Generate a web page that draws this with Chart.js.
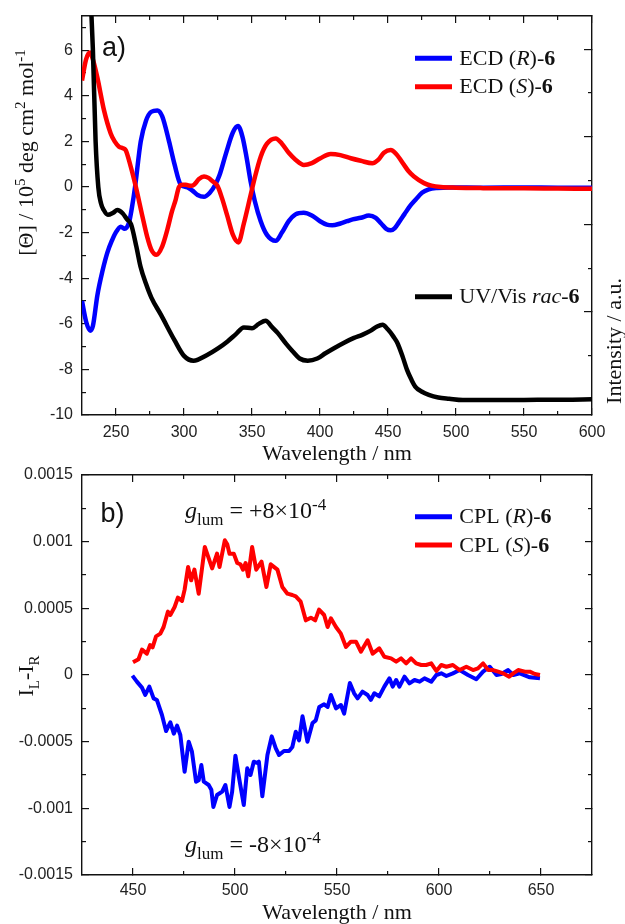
<!DOCTYPE html>
<html>
<head>
<meta charset="utf-8">
<script src="https://cdn.jsdelivr.net/npm/chart.js@4.4.1/dist/chart.umd.min.js"></script>
<style>
  html, body { margin: 0; padding: 0; background: #fff; }
  #wrap { position: relative; width: 625px; height: 924px; overflow: hidden; }
  #topChart { position: absolute; left: 0; top: 0; width: 625px; height: 470px; }
  #botChart { position: absolute; left: 0; top: 462px; width: 625px; height: 462px; }
</style>
</head>
<body>
<div id="wrap">
  <canvas id="topChart" width="625" height="470"></canvas>
  <canvas id="botChart" width="625" height="462"></canvas>
</div>
<script>
// ---- panel a) : ECD of both enantiomers + UV/Vis ----
const ecdRWl = [225, 228, 231, 233, 236.3, 240, 243.7, 247, 249.8, 253.5, 256.4, 259.6, 262, 264, 268.2, 272, 276, 280.4, 284, 289, 293, 297.6, 302, 306, 310, 314.7, 319, 323, 326, 331, 336, 339.7, 343, 346, 349, 352, 356.4, 361, 367.4, 372, 377, 382, 388, 394, 400, 405, 409, 415, 420, 424, 430, 436, 441, 445, 449, 452, 455, 458, 462, 466, 470.4, 475, 480, 486, 495, 520, 550, 575, 600];
const ecdRVal = [-5.0, -5.9, -6.3, -6.1, -4.75, -3.7, -2.87, -2.35, -2.0, -1.74, -1.83, -1.55, -0.8, 0.0, 2.0, 2.9, 3.3, 3.36, 3.1, 2.0, 1.0, 0.1, 0.0, -0.15, -0.35, -0.43, -0.25, 0.1, 0.5, 1.5, 2.4, 2.67, 2.2, 1.3, 0.24, -0.6, -1.5, -2.1, -2.36, -2.0, -1.5, -1.2, -1.13, -1.25, -1.5, -1.65, -1.68, -1.6, -1.5, -1.42, -1.35, -1.25, -1.35, -1.6, -1.85, -1.9, -1.8, -1.55, -1.2, -0.85, -0.55, -0.25, -0.1, -0.04, -0.02, -0.03, -0.02, -0.03, -0.03];

const ecdSWl = [225, 228, 230.9, 233, 236.3, 241.2, 246.1, 249, 252.2, 255, 257.1, 260.8, 264.5, 269.4, 273, 276, 279.7, 284, 287.8, 291, 293.9, 296.3, 299, 301.3, 305, 307.4, 311, 314.7, 318, 321, 324.6, 328, 331.9, 336, 340, 344, 349, 352, 356.4, 361, 367.4, 372, 377, 382, 388.2, 394, 400, 407.9, 415, 422.6, 430, 438.5, 443, 447, 452, 456, 461.8, 465, 469.1, 476.5, 482, 488.8, 500, 520, 550, 575, 600];
const ecdSVal = [4.67, 5.6, 5.9, 5.6, 4.8, 3.36, 2.35, 2.0, 1.77, 1.7, 1.62, 0.9, 0.03, -1.28, -2.2, -2.75, -2.97, -2.6, -1.86, -1.1, -0.55, 0.0, 0.1, 0.1, 0.05, 0.1, 0.35, 0.46, 0.4, 0.25, 0.05, -0.5, -1.28, -2.1, -2.43, -1.6, -0.35, 0.4, 1.33, 1.9, 2.13, 1.9, 1.5, 1.2, 0.97, 1.05, 1.25, 1.45, 1.4, 1.26, 1.15, 1.04, 1.2, 1.5, 1.62, 1.45, 0.97, 0.7, 0.46, 0.17, 0.06, 0.0, -0.03, -0.05, -0.06, -0.07, -0.08];

// UV/Vis intensity (a.u., right axis)
const uvWl = [230, 231, 232, 233, 235, 237, 239, 241, 244, 248, 251, 255, 258, 261, 265, 268, 272, 276, 283, 293, 300, 307, 317, 325, 332, 338, 344, 350, 355, 360, 365, 369, 375, 380, 385, 391, 398, 404, 410, 417, 425, 431, 437, 442, 446, 450, 454, 457, 461, 464, 467, 470, 475, 480, 487, 495, 505, 520, 540, 560, 580, 600];
const uvVal = [9.6, 9.16, 8.74, 8.0, 5.9, 4.85, 4.48, 4.33, 4.22, 4.27, 4.33, 4.25, 4.12, 4.01, 3.49, 3.04, 2.65, 2.33, 1.94, 1.36, 1.0, 0.89, 1.02, 1.17, 1.33, 1.49, 1.65, 1.63, 1.73, 1.8, 1.65, 1.52, 1.28, 1.1, 0.94, 0.89, 0.94, 1.06, 1.17, 1.29, 1.41, 1.48, 1.57, 1.67, 1.71, 1.6, 1.44, 1.29, 0.96, 0.68, 0.47, 0.3, 0.18, 0.11, 0.05, 0.02, -0.01, -0.01, -0.01, 0.0, 0.0, 0.01];

const ecdXMajor = [250, 300, 350, 400, 450, 500, 550, 600];
const ecdXMinor = [275, 325, 375, 425, 475, 525, 575];
const ecdYMajor = [-10, -8, -6, -4, -2, 0, 2, 4, 6];
const ecdYMinor = [-9, -7, -5, -3, -1, 1, 3, 5, 7];
const uvYMajor = [2, 4, 6, 8];
const uvYMinor = [1, 3, 5, 7];

const ecdLabels = ['ECD (<i>R</i>)-<b>6</b>', 'ECD (<i>S</i>)-<b>6</b>'];
const uvLabel = 'UV/Vis <i>rac</i>-<b>6</b>';

// ---- panel b) : CPL ----
const cplRWl = [449.7, 451.9, 454.4, 456, 458, 460.1, 461.7, 464.2, 466.2, 468.3, 470, 471.6, 473.2, 475.3, 477.3, 478.9, 480.9, 482.2, 483.5, 484.7, 487.1, 488.4, 489.4, 491.2, 493.7, 495.3, 497.3, 498.6, 500.2, 502.2, 504.3, 506, 507.6, 509.2, 510.9, 511.7, 513.4, 515.9, 518, 520, 521.6, 524, 526.5, 528.1, 529.8, 531.4, 533.1, 535.5, 538, 539.6, 541.3, 543.7, 545.4, 547, 549.5, 551.9, 553.5, 556.3, 558.4, 560.1, 562.5, 565, 566.6, 568.3, 570.7, 573.2, 575.7, 577.3, 579, 580.6, 583.1, 585.5, 588, 590.5, 592.9, 596.2, 598.7, 601.1, 603.6, 606.8, 610.1, 614.2, 618.3, 621.6, 624.9, 628.2, 630.6, 633.9, 636.4, 639.6, 644.5, 649.5];
const cplRVal = [-0.000005, -0.00005, -0.000095, -0.00015, -0.000087, -0.000175, -0.000187, -0.0003, -0.00042, -0.000355, -0.00044, -0.00038, -0.00045, -0.000725, -0.0005, -0.000575, -0.0008, -0.00079, -0.000675, -0.0008, -0.000825, -0.00086, -0.00099, -0.0009, -0.000875, -0.000825, -0.00099, -0.000875, -0.000605, -0.00079, -0.000975, -0.0007, -0.00075, -0.00065, -0.00066, -0.00065, -0.00091, -0.0006, -0.00046, -0.00055, -0.0006, -0.00057, -0.00057, -0.00054, -0.000425, -0.00049, -0.00031, -0.0005, -0.00036, -0.00034, -0.00024, -0.00022, -0.00024, -0.00015, -0.00025, -0.000225, -0.00029, -0.00006, -0.000137, -0.000175, -0.000125, -0.00015, -0.000187, -0.000137, -0.00016, -0.000087, -0.000025, -0.000087, -0.0000375, -0.000087, -0.0000125, -0.0000625, -0.0000375, -0.00005, -0.000025, -0.00005, 0, 0.0000125, -0.0000075, 0.0000125, 0.000037, 0, -0.000032, 0.000025, 0.000062, 0, 0.0000075, 0.000037, 0, 0.0000125, -0.000017, -0.000025];

const cplSWl = [450, 452.7, 454.4, 456.8, 458.4, 459.6, 461.3, 463.4, 465, 467.1, 468.3, 470.4, 472, 474, 475.3, 477, 478.5, 480.1, 482.2, 485.2, 486.8, 488.8, 491.2, 492.4, 495, 496.2, 497.3, 499.4, 501.1, 502.7, 503.9, 505.2, 506.5, 508.4, 510.4, 513, 515.4, 517.5, 520.8, 523.2, 525.7, 528.1, 529.8, 532.2, 534.7, 537.2, 539.3, 541.2, 543.7, 545.4, 547, 549.5, 551.9, 554.4, 556.8, 559.3, 561.7, 565, 567.5, 570.7, 573.2, 576.5, 579, 581.4, 583.9, 586.3, 588.8, 591.3, 593.7, 596.2, 598.7, 601.1, 603.6, 606.8, 610.1, 613.4, 616.7, 619.1, 621.6, 624.1, 626.5, 629, 631.4, 634.4, 636.4, 638.8, 642.1, 644.5, 647, 649.5];
const cplSVal = [0.000095, 0.000118, 0.00019, 0.00016, 0.000225, 0.000207, 0.00029, 0.00031, 0.00036, 0.000475, 0.00045, 0.00051, 0.00058, 0.000555, 0.00064, 0.00081, 0.00071, 0.00079, 0.00061, 0.00096, 0.00089, 0.0008, 0.00091, 0.00081, 0.00101, 0.00098, 0.00091, 0.00091, 0.00084, 0.00083, 0.00079, 0.00084, 0.00074, 0.00096, 0.00079, 0.00085, 0.00066, 0.00083, 0.00079, 0.00066, 0.00061, 0.0006, 0.00059, 0.00055, 0.00041, 0.00043, 0.00041, 0.00049, 0.00045, 0.00036, 0.000425, 0.00036, 0.00031, 0.00021, 0.00025, 0.00025, 0.000175, 0.00026, 0.00016, 0.0002, 0.000137, 0.000125, 0.0001, 0.000125, 0.000087, 0.000125, 0.000087, 0.000075, 0.000075, 0.000087, 0.00003, 0.000075, 0.000062, 0.000075, 0.000037, 0.000062, 0.000037, 0.00005, 0.000087, 0.000037, 0.000037, 0.000025, 0.0000125, -0.0000125, 0.0000125, 0.000037, 0.000025, 0.000025, 0.0000075, 0];

const cplXMajor = [450, 500, 550, 600, 650];
const cplXMinor = [475, 525, 575, 625];
const cplYMajor = [-0.0015, -0.001, -0.0005, 0, 0.0005, 0.001, 0.0015];
const cplYMinor = [-0.00125, -0.00075, -0.00025, 0.00025, 0.00075, 0.00125];

const cplLabels = ['CPL (<i>R</i>)-<b>6</b>', 'CPL (<i>S</i>)-<b>6</b>'];

// ---- styling ----
const SANS = '"Liberation Sans", Arial, sans-serif';
const SERIF = '"Liberation Serif", "Times New Roman", serif';
const INK = '#111';
const BLUE = '#0000ff';
const RED = '#ff0000';
const BLACK = '#000000';

const pts = (xs, ys) => xs.map((x, i) => ({ x, y: ys[i] }));
const plain = s => s.replace(/<[^>]+>/g, '');

// tiny markup: <i>, <b>, <sub>, <sup>
function parseRich(str, size, family) {
  const parts = [];
  const re = /<(i|b|sub|sup)>(.*?)<\/\1>|([^<]+)/g;
  const small = Math.round(size * 0.7);
  let m;
  while ((m = re.exec(str))) {
    if (m[3]) parts.push({ t: m[3], font: `${size}px ${family}`, dy: 0 });
    else if (m[1] === 'i') parts.push({ t: m[2], font: `italic ${size}px ${family}`, dy: 0 });
    else if (m[1] === 'b') parts.push({ t: m[2], font: `bold ${size}px ${family}`, dy: 0 });
    else if (m[1] === 'sub') parts.push({ t: m[2], font: `${small}px ${family}`, dy: size * 0.28 });
    else parts.push({ t: m[2], font: `${small}px ${family}`, dy: -size * 0.36 });
  }
  return parts;
}

function drawRich(ctx, it) {
  const parts = parseRich(it.text, it.size, it.family || SERIF);
  ctx.save();
  ctx.translate(it.x, it.y);
  if (it.rotate) ctx.rotate(it.rotate);
  ctx.textAlign = 'left';
  ctx.textBaseline = 'alphabetic';
  ctx.fillStyle = it.color || INK;
  let w = 0;
  parts.forEach(p => { ctx.font = p.font; p.w = ctx.measureText(p.t).width; w += p.w; });
  let x = it.align === 'center' ? -w / 2 : 0;
  parts.forEach(p => { ctx.font = p.font; ctx.fillText(p.t, x, p.dy); x += p.w; });
  ctx.restore();
}

const richText = {
  id: 'richText',
  afterDraw(chart, args, opts) {
    const ctx = chart.ctx;
    (opts.keys || []).forEach(k => {
      ctx.save();
      ctx.strokeStyle = k.color;
      ctx.lineWidth = 5;
      ctx.beginPath();
      ctx.moveTo(415, k.y);
      ctx.lineTo(452, k.y);
      ctx.stroke();
      ctx.restore();
      drawRich(ctx, { text: k.text, x: 459.3, y: k.y + 6.6, size: 22 });
    });
    (opts.items || []).forEach(it => drawRich(ctx, it));
  }
};

// axis with inward ticks; labels/border/title optional
function axis(o) {
  const horiz = o.position === 'top' || o.position === 'bottom';
  return {
    type: 'linear',
    axis: horiz ? 'x' : 'y',
    position: o.position,
    min: o.min,
    max: o.max,
    weight: o.weight || 0,
    afterBuildTicks: s => { s.ticks = o.ticks.map(v => ({ value: v })); },
    afterFit: s => {
      if (horiz) s.height = o.size; else s.width = o.size;
      // no extra inset of the plot area for overhanging labels
      s.paddingTop = 0; s.paddingBottom = 0; s.paddingLeft = 0; s.paddingRight = 0;
    },
    grid: { display: true, drawOnChartArea: false, drawTicks: true, tickLength: -o.len, color: INK, lineWidth: 1.2 },
    border: { display: !!o.border, color: INK, width: 1.4 },
    ticks: {
      display: !!o.labels, autoSkip: false, maxRotation: 0, padding: o.pad || 0,
      color: '#222', font: { family: SANS, size: 16, lineHeight: 1.2 },
      callback: v => String(v)
    },
    title: o.title
      ? { display: true, text: o.title, color: INK, font: { family: SERIF, size: 22, lineHeight: 1 }, padding: { top: 0, bottom: o.titlePad } }
      : { display: false }
  };
}

const lineDefaults = { pointRadius: 0, clip: 0, fill: false };

new Chart(document.getElementById('topChart'), {
  type: 'line',
  data: {
    datasets: [
      { ...lineDefaults, label: plain(uvLabel), data: pts(uvWl, uvVal), yAxisID: 'y2', borderColor: BLACK, borderWidth: 4.5, cubicInterpolationMode: 'monotone' },
      { ...lineDefaults, label: plain(ecdLabels[1]), data: pts(ecdSWl, ecdSVal), borderColor: RED, borderWidth: 4.5, cubicInterpolationMode: 'monotone' },
      { ...lineDefaults, label: plain(ecdLabels[0]), data: pts(ecdRWl, ecdRVal), borderColor: BLUE, borderWidth: 4.5, cubicInterpolationMode: 'monotone' }
    ]
  },
  options: {
    responsive: false,
    animation: false,
    devicePixelRatio: 1,
    layout: { padding: 0 },
    plugins: {
      legend: { display: false },
      tooltip: { enabled: false },
      richText: {
        keys: [
          { y: 58.3, color: BLUE, text: ecdLabels[0] },
          { y: 86.7, color: RED, text: ecdLabels[1] },
          { y: 296.7, color: BLACK, text: uvLabel }
        ],
        items: [
          { text: 'a)', x: 102, y: 56, size: 27, family: SANS },
          { text: '[Θ] / 10<sup>5</sup> deg cm<sup>2</sup> mol<sup>-1</sup>', x: 33, y: 152.5, size: 22, rotate: -Math.PI / 2, align: 'center' },
          { text: 'Intensity / a.u.', x: 621, y: 341, size: 22, rotate: -Math.PI / 2, align: 'center' }
        ]
      }
    },
    scales: {
      x: axis({ position: 'bottom', min: 225, max: 600, ticks: ecdXMajor, len: 7, size: 55, weight: 1, border: true, labels: true, pad: 15, title: 'Wavelength / nm', titlePad: 5 }),
      xMinor: axis({ position: 'bottom', min: 225, max: 600, ticks: ecdXMinor, len: 4, size: 0 }),
      xTop: axis({ position: 'top', min: 225, max: 600, ticks: ecdXMajor, len: 7, size: 16, weight: 1, border: true }),
      xTopMinor: axis({ position: 'top', min: 225, max: 600, ticks: ecdXMinor, len: 4, size: 0 }),
      y: axis({ position: 'left', min: -10, max: 7.5, ticks: ecdYMajor, len: 7, size: 82, weight: 1, border: true, labels: true, pad: 16 }),
      yMinor: axis({ position: 'left', min: -10, max: 7.5, ticks: ecdYMinor, len: 4, size: 0 }),
      y2: axis({ position: 'right', min: -0.35, max: 8.76, ticks: uvYMajor, len: 8, size: 33, weight: 1, border: true }),
      y2Minor: axis({ position: 'right', min: -0.35, max: 8.76, ticks: uvYMinor, len: 4, size: 0 })
    }
  },
  plugins: [richText]
});

new Chart(document.getElementById('botChart'), {
  type: 'line',
  data: {
    datasets: [
      { ...lineDefaults, label: plain(cplLabels[1]), data: pts(cplSWl, cplSVal), borderColor: RED, borderWidth: 4, tension: 0, borderJoinStyle: 'round' },
      { ...lineDefaults, label: plain(cplLabels[0]), data: pts(cplRWl, cplRVal), borderColor: BLUE, borderWidth: 4, tension: 0, borderJoinStyle: 'round' }
    ]
  },
  options: {
    responsive: false,
    animation: false,
    devicePixelRatio: 1,
    layout: { padding: 0 },
    plugins: {
      legend: { display: false },
      tooltip: { enabled: false },
      richText: {
        keys: [
          { y: 54.7, color: BLUE, text: cplLabels[0] },
          { y: 83, color: RED, text: cplLabels[1] }
        ],
        items: [
          { text: 'b)', x: 100.5, y: 59.7, size: 27, family: SANS },
          { text: '<i>g</i><sub>lum</sub> = +8×10<sup>-4</sup>', x: 185, y: 56.3, size: 24 },
          { text: '<i>g</i><sub>lum</sub> = -8×10<sup>-4</sup>', x: 185, y: 390, size: 24 },
          { text: 'I<sub>L</sub>-I<sub>R</sub>', x: 33, y: 214, size: 22, rotate: -Math.PI / 2, align: 'center' }
        ]
      }
    },
    scales: {
      x: axis({ position: 'bottom', min: 425, max: 675, ticks: cplXMajor, len: 7, size: 49, weight: 1, border: true, labels: true, pad: 13, title: 'Wavelength / nm', titlePad: 0 }),
      xMinor: axis({ position: 'bottom', min: 425, max: 675, ticks: cplXMinor, len: 4, size: 0 }),
      xTop: axis({ position: 'top', min: 425, max: 675, ticks: cplXMajor, len: 7, size: 13, weight: 1, border: true }),
      xTopMinor: axis({ position: 'top', min: 425, max: 675, ticks: cplXMinor, len: 4, size: 0 }),
      y: axis({ position: 'left', min: -0.0015, max: 0.0015, ticks: cplYMajor, len: 7, size: 82, weight: 1, border: true, labels: true, pad: 16 }),
      yMinor: axis({ position: 'left', min: -0.0015, max: 0.0015, ticks: cplYMinor, len: 4, size: 0 }),
      yR: axis({ position: 'right', min: -0.0015, max: 0.0015, ticks: cplYMajor, len: 7, size: 33, weight: 1, border: true }),
      yRMinor: axis({ position: 'right', min: -0.0015, max: 0.0015, ticks: cplYMinor, len: 4, size: 0 })
    }
  },
  plugins: [richText]
});
</script>
</body>
</html>
